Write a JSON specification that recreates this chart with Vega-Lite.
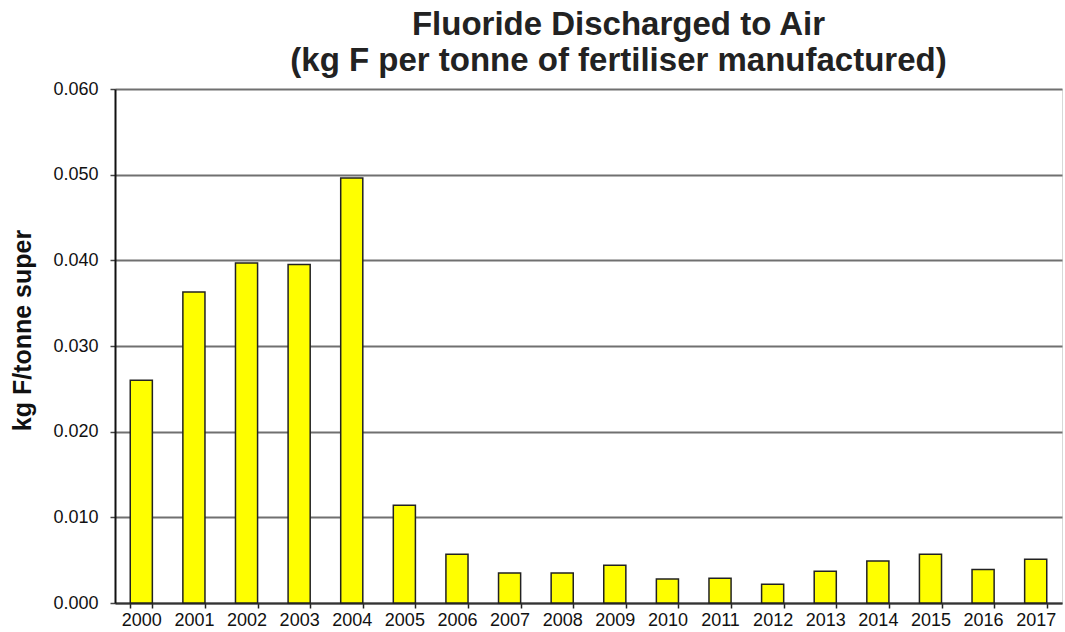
{
  "$schema": "https://vega.github.io/schema/vega-lite/v6.json",
  "autosize": {"type": "none"},
  "width": 947,
  "height": 514,
  "padding": {"left": 115, "top": 89, "right": 3, "bottom": 29},
  "background": "white",
  "title": {
    "text": ["Fluoride Discharged to Air", "(kg F per tonne of fertiliser manufactured)"],
    "font": "Liberation Sans",
    "fontSize": 33,
    "fontWeight": "bold",
    "color": "#222222",
    "lineHeight": 36,
    "anchor": "middle",
    "dx": 30,
    "offset": 2
  },
  "config": {
    "view": {"stroke": "#d8d8d8", "strokeWidth": 1},
    "axis": {"labelFont": "Liberation Sans", "titleFont": "Liberation Sans"}
  },
  "data": {
    "values": [
      {"year": "2000", "value": 0.0260},
      {"year": "2001", "value": 0.0363},
      {"year": "2002", "value": 0.0397},
      {"year": "2003", "value": 0.0395},
      {"year": "2004", "value": 0.0496},
      {"year": "2005", "value": 0.0114},
      {"year": "2006", "value": 0.0057},
      {"year": "2007", "value": 0.0035},
      {"year": "2008", "value": 0.0035},
      {"year": "2009", "value": 0.0044},
      {"year": "2010", "value": 0.0028},
      {"year": "2011", "value": 0.0029},
      {"year": "2012", "value": 0.0022},
      {"year": "2013", "value": 0.0037},
      {"year": "2014", "value": 0.0049},
      {"year": "2015", "value": 0.0057},
      {"year": "2016", "value": 0.0039},
      {"year": "2017", "value": 0.0051}
    ]
  },
  "mark": {"type": "bar", "fill": "#ffff00", "stroke": "#222222", "strokeWidth": 1.5},
  "encoding": {
    "x": {
      "field": "year",
      "type": "ordinal",
      "scale": {"paddingInner": 0.58, "paddingOuter": 0.29},
      "axis": {
        "title": null,
        "labelAngle": 0,
        "labelFontSize": 18,
        "labelColor": "#111111",
        "labelPadding": 3,
        "tickBand": "extent",
        "tickSize": 5,
        "tickColor": "#222222",
        "tickWidth": 1.5,
        "domainColor": "#333333",
        "domainWidth": 2,
        "grid": false
      }
    },
    "y": {
      "field": "value",
      "type": "quantitative",
      "scale": {"domain": [0, 0.06], "nice": false},
      "axis": {
        "title": "kg F/tonne super",
        "titleFontSize": 25,
        "titleFontWeight": "bold",
        "titleColor": "#111111",
        "titleX": -93,
        "titleY": 241,
        "titleAlign": "center",
        "titleBaseline": "middle",
        "titleAngle": -90,
        "values": [0, 0.01, 0.02, 0.03, 0.04, 0.05, 0.06],
        "format": ".3f",
        "labelFontSize": 18,
        "labelColor": "#111111",
        "labelPadding": 12,
        "tickSize": 5,
        "tickColor": "#444444",
        "tickWidth": 1.5,
        "domainColor": "#111111",
        "domainWidth": 2,
        "grid": true,
        "gridColor": "#707070",
        "gridWidth": 2
      }
    }
  }
}
